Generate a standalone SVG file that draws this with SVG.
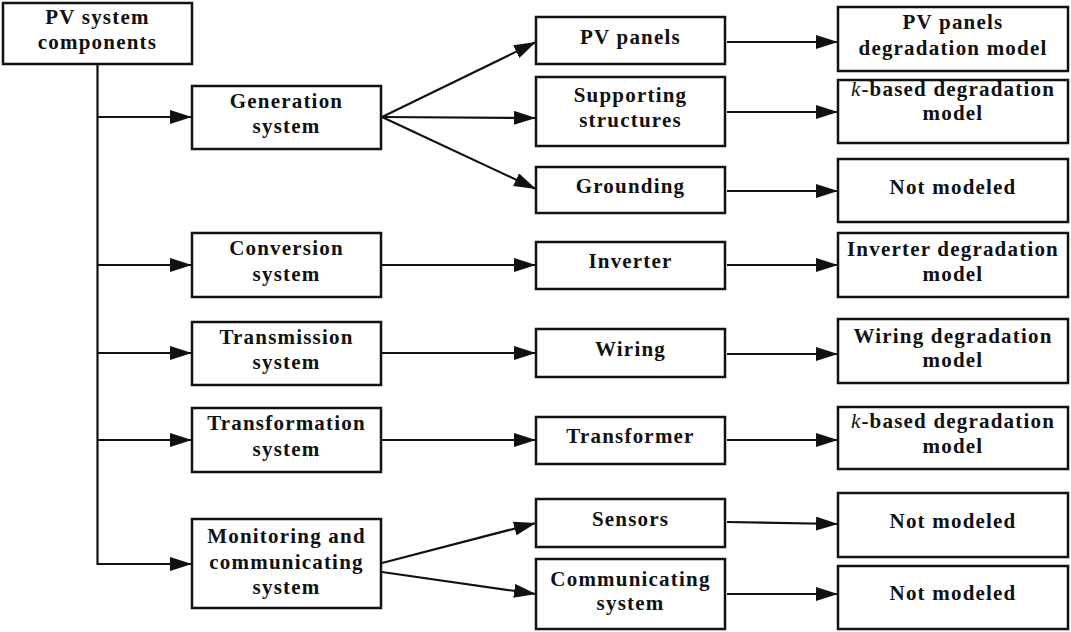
<svg xmlns="http://www.w3.org/2000/svg" width="1071" height="632" viewBox="0 0 1071 632">
<style>
.box{fill:#fff;stroke:#111;stroke-width:2.5}
.t{font-family:"Liberation Serif","Times New Roman",serif;font-weight:bold;font-size:21px;letter-spacing:1.2px;text-anchor:middle;fill:#111}
.k{font-style:italic;font-weight:normal}
.c{fill:none;stroke:#111;stroke-width:2.2}
</style>
<defs>
<marker id="ah" markerUnits="userSpaceOnUse" markerWidth="22" markerHeight="14" refX="22" refY="7" orient="auto">
<path d="M0,0 L22,7 L0,14 z" fill="#111"/>
</marker>
</defs>
<g id="connectors">
<path class="c" d="M97.5 64 V564 H192" marker-end="url(#ah)"/>
<path class="c" d="M97.5 117 H192" marker-end="url(#ah)"/>
<path class="c" d="M97.5 265 H192" marker-end="url(#ah)"/>
<path class="c" d="M97.5 353 H192" marker-end="url(#ah)"/>
<path class="c" d="M97.5 440 H192" marker-end="url(#ah)"/>
<path class="c" d="M382 117 L536 42" marker-end="url(#ah)"/>
<path class="c" d="M382 117 L536 118" marker-end="url(#ah)"/>
<path class="c" d="M382 117 L536 189" marker-end="url(#ah)"/>
<path class="c" d="M382 265 H536" marker-end="url(#ah)"/>
<path class="c" d="M382 353 H536" marker-end="url(#ah)"/>
<path class="c" d="M382 440 H536" marker-end="url(#ah)"/>
<path class="c" d="M382 563 L536 523" marker-end="url(#ah)"/>
<path class="c" d="M382 572 L536 594" marker-end="url(#ah)"/>
<path class="c" d="M727 42 H838" marker-end="url(#ah)"/>
<path class="c" d="M727 112 H838" marker-end="url(#ah)"/>
<path class="c" d="M727 191 H838" marker-end="url(#ah)"/>
<path class="c" d="M727 265 H838" marker-end="url(#ah)"/>
<path class="c" d="M727 354 H838" marker-end="url(#ah)"/>
<path class="c" d="M727 440 H838" marker-end="url(#ah)"/>
<path class="c" d="M727 522 L838 524" marker-end="url(#ah)"/>
<path class="c" d="M727 594 H838" marker-end="url(#ah)"/>
</g>
<g id="root"><rect class="box" x="3" y="3" width="189" height="61"/><text class="t" x="97.5" y="24">PV system</text><text class="t" x="97.5" y="49">components</text></g>
<g id="generation"><rect class="box" x="192" y="86" width="189" height="63"/><text class="t" x="286.5" y="108">Generation</text><text class="t" x="286.5" y="133">system</text></g>
<g id="conversion"><rect class="box" x="192" y="233" width="189" height="64"/><text class="t" x="286.5" y="255">Conversion</text><text class="t" x="286.5" y="281">system</text></g>
<g id="transmission"><rect class="box" x="192" y="322" width="189" height="63"/><text class="t" x="286.5" y="344">Transmission</text><text class="t" x="286.5" y="369">system</text></g>
<g id="transformation"><rect class="box" x="192" y="408" width="189" height="64"/><text class="t" x="286.5" y="430">Transformation</text><text class="t" x="286.5" y="456">system</text></g>
<g id="monitoring"><rect class="box" x="192" y="519" width="189" height="89"/><text class="t" x="286.5" y="543">Monitoring and</text><text class="t" x="286.5" y="569">communicating</text><text class="t" x="286.5" y="594">system</text></g>
<g id="pvpanels"><rect class="box" x="536" y="17" width="189" height="47"/><text class="t" x="630.5" y="44">PV panels</text></g>
<g id="supporting"><rect class="box" x="536" y="77" width="189" height="69"/><text class="t" x="630.5" y="102">Supporting</text><text class="t" x="630.5" y="127">structures</text></g>
<g id="grounding"><rect class="box" x="536" y="167" width="189" height="46"/><text class="t" x="630.5" y="193">Grounding</text></g>
<g id="inverter"><rect class="box" x="536" y="242" width="189" height="47"/><text class="t" x="630.5" y="268">Inverter</text></g>
<g id="wiring"><rect class="box" x="536" y="329" width="189" height="48"/><text class="t" x="630.5" y="356">Wiring</text></g>
<g id="transformer"><rect class="box" x="536" y="417" width="189" height="47"/><text class="t" x="630.5" y="443">Transformer</text></g>
<g id="sensors"><rect class="box" x="536" y="499" width="189" height="48"/><text class="t" x="630.5" y="526">Sensors</text></g>
<g id="communicating"><rect class="box" x="536" y="559" width="189" height="70"/><text class="t" x="630.5" y="586">Communicating</text><text class="t" x="630.5" y="610">system</text></g>
<g id="pvdeg"><rect class="box" x="838" y="7" width="230" height="64"/><text class="t" x="953" y="29">PV panels</text><text class="t" x="953" y="55">degradation model</text></g>
<g id="kbased1"><rect class="box" x="838" y="80" width="230" height="63"/><text class="t" x="953" y="96"><tspan class="k">k</tspan>-based degradation</text><text class="t" x="953" y="120">model</text></g>
<g id="notmodeled1"><rect class="box" x="838" y="159" width="230" height="63"/><text class="t" x="953" y="194">Not modeled</text></g>
<g id="inverterdeg"><rect class="box" x="838" y="233" width="230" height="64"/><text class="t" x="953" y="256">Inverter degradation</text><text class="t" x="953" y="281">model</text></g>
<g id="wiringdeg"><rect class="box" x="838" y="319" width="230" height="64"/><text class="t" x="953" y="343">Wiring degradation</text><text class="t" x="953" y="367">model</text></g>
<g id="kbased2"><rect class="box" x="838" y="407" width="230" height="62"/><text class="t" x="953" y="428"><tspan class="k">k</tspan>-based degradation</text><text class="t" x="953" y="453">model</text></g>
<g id="notmodeled2"><rect class="box" x="838" y="493" width="230" height="64"/><text class="t" x="953" y="528">Not modeled</text></g>
<g id="notmodeled3"><rect class="box" x="838" y="566" width="230" height="63"/><text class="t" x="953" y="600">Not modeled</text></g>
</svg>
